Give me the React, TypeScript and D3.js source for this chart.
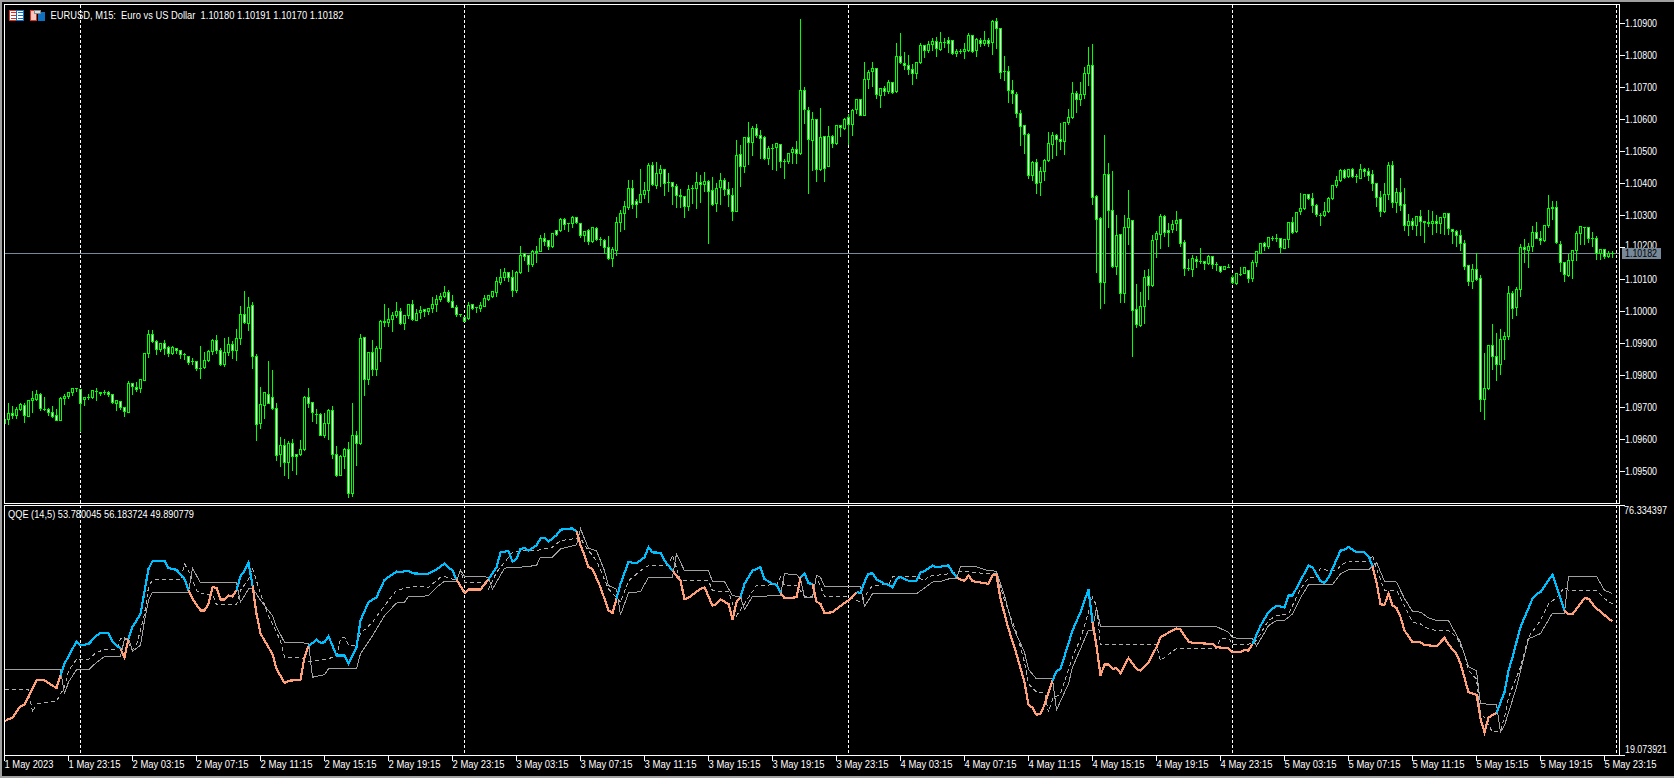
import * as d3 from "d3";

// EURUSD M15 bars as [open, high, low, close], in points above 1.09000
type Bar = [number, number, number, number];

const may1Bars: Bar[] = [
  [662,664,648,650],[662,717,646,681],[681,706,665,674],[675,702,665,694],[694,717,692,709],[706,717,652,675],[673,722,671,722],[722,754,685,728],
  [725,757,723,741],[741,748,690,696],[695,735,690,694],[694,701,675,683],[684,707,669,673],[675,698,658,659],[659,735,659,728],[727,744,710,735],
  [733,751,727,748],[746,759,736,759],[759,764,751,760],
];

const may2Bars: Bar[] = [
  [756,759,624,711],[725,732,705,732],[731,744,726,732],[730,756,728,753],[750,762,723,750],[747,751,736,743],[747,756,742,747],[747,753,733,741],
  [741,741,713,715],[711,722,690,722],[719,723,694,699],[700,700,671,686],[685,784,683,775],[775,778,740,766],[762,781,751,756],[758,790,746,787],
  [785,872,783,869],[869,944,855,928],[928,944,904,905],[906,913,865,881],[881,904,874,900],[900,913,865,884],[888,894,858,869],[868,894,865,888],
  [883,885,869,878],[878,881,852,865],[865,873,850,865],[859,863,833,840],[843,856,835,843],[844,848,817,821],[823,894,790,823],[824,875,821,847],
  [847,881,844,875],[876,916,865,909],[909,928,868,877],[878,887,832,834],[834,918,829,872],[871,923,863,897],[897,910,854,877],[877,947,848,915],
  [915,1020,898,990],[990,1066,964,965],[964,1048,941,1014],[1018,1030,823,859],[859,868,598,646],[649,766,635,709],[705,746,666,746],[742,847,713,714],
  [731,818,693,696],[697,715,535,549],[552,610,516,581],[581,603,488,527],[527,596,479,587],[587,603,502,546],[554,556,491,546],[552,600,549,568],
  [568,737,566,731],[731,762,699,714],[715,715,656,684],[679,698,651,679],[678,684,612,614],[614,684,606,650],[650,696,600,690],[690,707,541,553],
  [552,581,485,488],[489,552,488,546],[546,575,510,568],[568,593,419,430],[431,715,422,612],[612,628,519,586],[586,931,585,915],[918,922,738,789],
  [789,875,773,872],[872,913,800,820],[820,893,800,884],[883,975,844,968],[968,1025,954,965],[967,1012,954,975],[975,1000,938,987],[987,1031,981,1000],
  [1000,1012,960,963],[962,987,945,987],[987,1025,978,1022],[1022,1037,973,975],[972,1009,971,994],[996,1019,979,1003],[1005,1009,983,1000],[999,1012,991,1009],
  [1009,1047,997,1022],[1023,1053,1001,1037],[1036,1059,1031,1047],[1047,1081,1044,1059],[1059,1069,1027,1030],[1030,1053,1012,1014],[1014,1021,983,990],[992,993,985,991],
];

const may3Bars: Bar[] = [
  [981,983,968,970],[978,1031,976,1018],[1021,1025,1006,1010],[1012,1016,998,1012],[1010,1031,1001,1018],[1017,1054,1016,1040],[1038,1054,1035,1050],[1048,1062,1045,1062],
  [1059,1110,1048,1093],[1091,1135,1085,1106],[1107,1138,1098,1122],[1122,1123,1094,1105],[1106,1131,1048,1067],[1067,1127,1060,1122],[1123,1207,1120,1175],[1181,1185,1160,1173],
  [1175,1175,1126,1147],[1146,1193,1141,1187],[1185,1207,1154,1189],[1189,1240,1187,1228],[1228,1248,1206,1218],[1222,1226,1195,1202],[1202,1243,1201,1243],[1253,1256,1237,1242],
  [1252,1293,1250,1287],[1287,1293,1256,1271],[1275,1278,1251,1274],[1275,1300,1262,1293],[1293,1297,1275,1278],[1275,1275,1231,1236],[1236,1250,1218,1250],[1253,1259,1210,1218],
  [1218,1262,1216,1262],[1259,1265,1221,1225],[1225,1234,1206,1225],[1222,1228,1181,1200],[1200,1237,1163,1167],[1167,1203,1141,1193],[1190,1297,1176,1278],[1278,1318,1251,1306],
  [1306,1347,1257,1328],[1325,1412,1318,1384],[1384,1412,1323,1333],[1344,1353,1294,1333],[1342,1448,1341,1365],[1367,1406,1353,1378],[1378,1465,1341,1456],[1456,1469,1395,1397],
  [1394,1469,1385,1431],[1432,1459,1391,1444],[1444,1444,1363,1399],[1402,1435,1376,1402],[1403,1406,1335,1390],[1390,1400,1326,1361],[1362,1384,1325,1358],[1359,1360,1294,1327],
  [1327,1397,1316,1381],[1383,1397,1338,1383],[1383,1437,1323,1403],[1403,1428,1341,1397],[1397,1437,1376,1405],[1405,1412,1214,1374],[1378,1422,1331,1333],[1337,1404,1314,1383],
  [1386,1434,1335,1409],[1409,1418,1362,1381],[1380,1406,1327,1365],[1364,1387,1285,1314],[1314,1537,1314,1487],[1490,1523,1391,1452],[1452,1543,1435,1543],[1543,1594,1460,1527],
  [1527,1582,1488,1572],[1572,1588,1543,1549],[1550,1568,1479,1540],[1543,1550,1476,1478],[1478,1518,1460,1509],[1510,1525,1444,1510],[1512,1529,1441,1525],[1522,1525,1451,1468],
  [1468,1478,1417,1468],[1468,1494,1462,1493],[1497,1516,1462,1506],[1506,1535,1462,1493],[1493,1916,1491,1690],[1690,1703,1587,1631],[1628,1640,1370,1537],[1534,1625,1441,1600],
  [1600,1603,1405,1443],[1443,1637,1441,1543],[1547,1547,1405,1447],[1453,1581,1452,1547],[1547,1553,1514,1525],[1525,1584,1522,1581],[1581,1581,1548,1576],[1572,1606,1568,1600],
];

const may4Bars: Bar[] = [
  [1606,1618,1523,1584],[1584,1634,1551,1628],[1631,1664,1618,1662],[1662,1662,1612,1614],[1612,1781,1611,1725],[1725,1756,1698,1747],[1750,1781,1704,1758],[1759,1759,1666,1678],
  [1674,1697,1639,1697],[1697,1706,1675,1687],[1686,1725,1680,1715],[1715,1716,1681,1683],[1686,1840,1683,1797],[1797,1872,1775,1777],[1775,1812,1757,1769],[1769,1803,1741,1756],
  [1756,1775,1710,1743],[1743,1781,1729,1778],[1778,1840,1775,1831],[1830,1834,1795,1815],[1815,1847,1809,1834],[1834,1856,1816,1843],[1843,1859,1798,1821],[1818,1875,1815,1840],
  [1841,1856,1825,1841],[1847,1859,1809,1838],[1848,1850,1804,1806],[1805,1823,1798,1812],[1812,1822,1806,1812],[1811,1840,1791,1818],[1816,1873,1814,1862],[1862,1863,1810,1814],
  [1815,1856,1798,1850],[1847,1856,1829,1836],[1837,1878,1832,1847],[1847,1856,1829,1837],[1840,1913,1804,1906],[1906,1919,1823,1884],[1884,1884,1729,1747],[1749,1800,1723,1749],
  [1750,1769,1654,1690],[1690,1725,1650,1681],[1678,1687,1606,1618],[1618,1631,1518,1577],[1581,1581,1493,1553],[1553,1559,1416,1425],[1425,1473,1408,1465],[1465,1478,1368,1400],
  [1402,1453,1363,1437],[1437,1478,1410,1472],[1472,1562,1468,1525],[1522,1562,1479,1550],[1551,1556,1488,1539],[1537,1591,1506,1530],[1530,1590,1492,1590],[1590,1635,1584,1606],
  [1606,1720,1603,1681],[1681,1690,1623,1664],[1664,1718,1643,1678],[1679,1766,1667,1743],[1743,1829,1706,1768],[1768,1837,1335,1356],[1359,1365,1123,1286],[1290,1297,1010,1092],
  [1092,1554,1026,1428],[1428,1465,1263,1315],[1315,1440,1139,1142],[1142,1303,1116,1237],[1240,1240,1029,1056],[1056,1303,1029,1262],[1262,1381,1210,1290],[1284,1287,860,1003],
  [1006,1087,951,959],[957,1062,954,1015],[1017,1132,962,1106],[1109,1134,1038,1080],[1080,1240,1079,1222],[1224,1253,1169,1243],[1242,1306,1198,1297],[1297,1303,1235,1246],
  [1253,1278,1204,1246],[1255,1287,1248,1272],[1274,1315,1253,1284],[1287,1290,1204,1214],[1215,1225,1112,1134],[1133,1165,1129,1133],[1130,1179,1110,1165],[1162,1175,1137,1155],
  [1156,1200,1151,1156],[1156,1159,1132,1150],[1150,1178,1148,1172],[1172,1175,1135,1147],[1146,1156,1127,1146],[1142,1143,1123,1125],[1131,1140,1130,1140],[1139,1150,1136,1139],
];

const may5Bars: Bar[] = [
  [1106,1116,1087,1092],[1089,1119,1085,1118],[1117,1140,1113,1117],[1118,1137,1118,1137],[1128,1131,1091,1103],[1102,1162,1094,1153],[1153,1187,1141,1187],[1182,1212,1181,1212],
  [1212,1218,1191,1203],[1202,1231,1198,1231],[1229,1237,1223,1229],[1228,1243,1220,1228],[1228,1232,1185,1200],[1198,1225,1196,1225],[1225,1278,1201,1278],[1278,1297,1245,1248],
  [1249,1309,1248,1309],[1312,1372,1303,1322],[1322,1368,1318,1365],[1365,1368,1350,1353],[1353,1372,1310,1330],[1331,1337,1298,1302],[1301,1309,1270,1301],[1299,1343,1298,1312],
  [1312,1359,1308,1353],[1353,1393,1350,1393],[1393,1425,1386,1409],[1409,1447,1407,1440],[1440,1447,1416,1420],[1421,1444,1419,1444],[1444,1450,1419,1422],[1421,1431,1404,1421],
  [1416,1462,1415,1444],[1444,1450,1423,1437],[1437,1450,1410,1425],[1428,1444,1379,1400],[1400,1400,1329,1356],[1356,1379,1298,1314],[1311,1403,1310,1365],[1365,1469,1350,1456],
  [1457,1473,1324,1340],[1340,1387,1310,1372],[1372,1420,1316,1330],[1334,1387,1254,1269],[1269,1306,1237,1281],[1281,1294,1256,1269],[1269,1300,1237,1297],[1297,1319,1237,1280],
  [1281,1281,1216,1277],[1278,1319,1266,1274],[1274,1315,1241,1281],[1281,1303,1248,1275],[1275,1297,1244,1294],[1294,1310,1241,1306],[1306,1308,1241,1258],[1256,1259,1212,1249],
  [1250,1256,1204,1237],[1237,1256,1191,1212],[1212,1225,1131,1142],[1143,1147,1081,1093],[1093,1150,1073,1131],[1131,1184,1098,1100],[1103,1115,687,725],[725,873,664,759],
  [759,898,757,893],[893,962,818,859],[859,934,785,834],[833,947,804,912],[912,937,850,921],[921,1081,912,1056],[1056,1065,979,1009],[1012,1078,987,1068],
  [1068,1212,1048,1200],[1200,1228,1154,1194],[1190,1215,1138,1203],[1203,1269,1187,1247],[1247,1281,1227,1228],[1228,1254,1210,1222],[1222,1272,1219,1269],[1269,1366,1264,1322],
  [1322,1347,1287,1325],[1325,1348,1212,1215],[1209,1222,1126,1153],[1153,1153,1095,1115],[1114,1181,1110,1159],[1159,1194,1104,1190],[1190,1253,1160,1243],[1243,1268,1210,1265],
  [1264,1265,1210,1264],[1262,1262,1216,1228],[1228,1251,1204,1228],[1228,1237,1162,1181],[1181,1194,1162,1194],[1194,1197,1166,1171],[1173,1191,1168,1181],[1180,1191,1170,1182],
];

// QQE lines, [bar index, value]
type Pt = [number, number];

const rsiLine: Pt[] = [
  [0,26.9],[1,27.4],[2,27.7],[4,30.4],[5,30.7],[8,36.3],[10,36.3],[13,34.5],[14,37.4],[15,40.1],[18,45.2],[19,44.3],[21,44.6],[23,46.5],[24,47.1],[26,47.1],[27,45.2],[29,43.5],[30,41.6],[31,45.8],
  [32,48.5],[34,51.5],[36,61.8],[37,63.6],[40,63.7],[41,62],[43,61.6],[45,59.5],[46,56.9],[47,55],[49,52.3],[50,52.3],[51,53.8],[52,57.6],[53,57.5],[54,54.8],[55,54.8],[56,55.7],[57,55.5],[58,56.9],
  [59,60.1],[60,61.4],[61,63.3],[62,58],[63,51.5],[64,47],[67,42.3],[68,38.9],[70,35.7],[71,36.2],[74,36.4],[75,41.6],[76,44.1],[78,45.6],[79,44.9],[80,45],[81,46.4],[83,42],[85,42],[86,40.2],
  [88,43.9],[89,50],[91,54.2],[93,55.3],[95,59.3],[98,61.2],[99,61.1],[101,61.4],[102,60.8],[104,60.7],[106,60.7],[108,61.7],[110,63],[112,61.4],[113,59.4],[115,56.3],[116,57.1],[119,57.1],[121,59.4],[123,62.2],
  [124,65.6],[126,65.9],[127,63.5],[128,64.1],[129,66.4],[130,66.6],[131,66],[133,67.2],[134,68.8],[135,68.9],[136,68.1],[138,69.5],[139,70.8],[142,71.1],[143,70.4],[144,67.2],[145,64.9],[146,62.2],[147,61.8],[149,57.6],
  [151,52.3],[152,51.7],[153,55],[154,58.4],[156,63.4],[158,63.1],[160,64.5],[161,66.8],[162,65.6],[164,65.5],[165,63.7],[167,61.4],[169,59.1],[170,54.9],[171,55.2],[173,56.6],[174,57.2],[175,57.6],[177,53.4],[178,53.8],
  [179,54.8],[181,53.8],[182,50.2],[183,54.2],[184,55.3],[185,58.4],[187,61.4],[189,62.2],[190,59.5],[192,58.4],[193,58.2],[194,56.3],[195,55.1],[198,55.3],[199,59.9],[200,60.8],[201,58.5],[202,58.4],[203,54.3],[204,53.8],
  [205,51.7],[207,51.9],[210,54],[211,54.6],[213,56.5],[214,56.3],[215,58.8],[216,60.7],[217,60.8],[218,59.4],[220,58.4],[221,58.2],[222,57.6],[223,59.5],[224,60],[226,59.1],[228,59.1],[229,61],[230,61.3],[232,62.6],
  [233,62.2],[236,62.6],[237,61.1],[238,59.9],[239,59.4],[240,59.1],[241,60.3],[242,59],[246,58.4],[247,60.3],[248,60.4],[249,55],[251,48.1],[253,42.3],[255,35.8],[256,30.7],[257,30],[258,28.4],[259,28.6],[260,30.7],
  [262,36.2],[263,38.4],[264,38.9],[267,47.7],[269,51.9],[271,57.1],[272,49.6],[273,44.2],[274,37.4],[275,39.9],[276,39.9],[277,38.9],[278,39.1],[279,37.9],[281,41.4],[283,38.9],[284,38.5],[286,40.4],[288,43.9],[289,46.2],
  [293,48.2],[294,47.9],[296,45.2],[297,44.9],[302,44.6],[303,43.9],[306,43.6],[307,42.7],[309,42.7],[310,43.3],[311,43.1],[312,44.6],[314,48.8],[316,51.9],[318,53.4],[320,53],[321,55.7],[322,55.7],[324,59.1],[326,62.6],
  [327,62.2],[329,59],[330,58.6],[331,59.8],[334,66],[335,66.2],[336,66.8],[338,65.6],[340,65.6],[341,64.7],[342,62.4],[343,58.8],[344,53.7],[345,53.6],[346,56.1],[347,53.4],[348,52.9],[349,50.8],[350,47.7],[352,45],
  [354,45],[355,44.4],[358,44.1],[360,46],[361,44.5],[363,42.3],[364,40.1],[366,33.6],[368,33],[369,27.5],[370,24.4],[371,27.8],[373,28.8],[375,33.6],[376,38.5],[377,41.6],[379,48.5],[382,55],[383,56],[384,56.5],
  [387,60.5],[390,52.3],[391,51.4],[392,51.4],[395,55.1],[396,55],[397,53.8],[398,52.7],[399,52.1],[401,50.4],[402,49.89],
];

// bars where the RSI line changes colour, it starts orange
const rsiTurns = [14,29,31,46,58,62,76,113,121,143,153,167,184,194,199,202,213,238,262,272,312,342,373,390];

const slowLine: Pt[] = [
  [0,38.7],[14,38.7],[15,33.2],[16,35.9],[18,38.7],[21,38.7],[23,40.4],[25,41.7],[29,41.7],[30,45.8],[31,46],[32,43],[34,44.3],[35,50],[36,54.6],[37,56.5],[46,56.5],[47,62],[49,58.6],[58,58.6],
  [59,54.2],[61,57.2],[62,57.5],[64,54.6],[67,51.1],[68,48.5],[70,45],[76,44.8],[77,37],[80,37.6],[81,38.9],[88,38.9],[89,42.4],[92,46.5],[95,51.1],[98,54],[100,54.2],[101,55.5],[104,55.5],[106,55.7],
  [108,57.6],[110,59],[113,59],[114,61.5],[115,60.1],[119,60.1],[121,59.9],[122,57.2],[125,62],[129,62.2],[133,62.6],[134,64.5],[137,64.5],[139,66.4],[143,67.3],[144,71],[146,66.5],[148,66],[150,61.4],[151,58],
  [153,57.2],[154,51.3],[156,56.3],[159,56.6],[161,59.9],[167,59.9],[168,65.3],[170,61.4],[176,61.4],[177,58.9],[180,58.9],[182,55.7],[184,55.4],[185,52.5],[187,55.5],[194,55.7],[195,60.7],[198,60.5],[199,59.5],[200,55.3],
  [202,55.3],[203,60.3],[204,59.9],[205,57.8],[214,57.8],[215,53.2],[217,56.1],[228,56.1],[232,58.8],[234,58.9],[236,59.5],[238,59.5],[239,62.4],[243,62.3],[246,61.4],[248,61.3],[250,55.7],[252,48.8],[255,42.7],[256,38.8],
  [258,36.6],[262,36.6],[263,29.5],[266,35.5],[267,39.3],[269,43.5],[271,47.8],[272,47.8],[273,53],[274,48.6],[303,48.6],[306,47.3],[307,46.1],[309,45.8],[312,45.8],[313,44.1],[316,48.8],[318,50],[320,50],[322,51.5],
  [324,55.2],[326,58.2],[332,58.2],[334,60.7],[336,61.6],[341,61.6],[342,62.4],[343,63.3],[345,59],[348,58.8],[350,55],[352,52.1],[354,51.9],[356,50.6],[358,50],[361,50],[364,45],[366,39.4],[368,38.5],[369,30.9],
  [373,30.8],[374,24.4],[375,26],[378,34.7],[381,45.8],[384,47],[387,51.7],[390,51.7],[391,60.1],[398,60.1],[400,56.9],[402,56.18],
];

const dashedLine: Pt[] = [
  [0,34.1],[6,34.1],[7,29],[8,30.9],[13,31.5],[15,34.7],[16,38.5],[18,41.1],[21,41.1],[23,42.7],[25,43.3],[28,43.3],[29,45.8],[30,46.2],[32,43.3],[33,44.3],[35,51.5],[36,57.6],[37,59.3],[44,59.3],
  [45,63],[46,61.4],[48,56.9],[49,56.1],[52,56],[53,53.6],[58,53.6],[59,56.9],[61,59.5],[62,62],[64,56.1],[66,51.1],[69,45.4],[70,41.6],[74,41.4],[76,40.6],[80,41],[83,41.8],[84,45.8],[85,46.2],
  [86,44.3],[88,44.3],[89,47],[92,49.6],[95,53.4],[98,56.9],[101,57.6],[104,57.8],[106,57.6],[109,59.9],[110,60.1],[113,59.1],[114,61.4],[115,58.6],[120,58.6],[121,57.2],[123,61],[125,63.3],[127,65.6],[129,66],
  [133,66],[135,66.4],[137,66.8],[139,68.3],[143,68.8],[144,69],[145,67.2],[148,63.7],[151,57.2],[153,55.3],[154,54.2],[156,59.1],[159,61.4],[161,62.6],[166,62.6],[167,64.9],[169,59.1],[176,59.1],[177,56.8],[181,56.6],
  [183,51.1],[188,58],[193,58.2],[194,59.9],[195,58],[198,58],[200,55.6],[202,55.6],[203,60.1],[204,57.6],[205,55.6],[211,55.6],[212,55],[214,54.2],[217,58],[221,58.2],[222,60],[228,60.1],[230,59.1],[231,60.1],
  [236,60.7],[238,61.2],[239,61.3],[246,60.7],[248,60.7],[250,54.6],[253,47.3],[255,40.4],[256,35.5],[258,33.6],[260,33.4],[261,29],[262,32],[264,33.2],[267,41.6],[269,45.8],[271,51.9],[272,55.3],[273,53.4],[274,44.4],
  [288,44.4],[289,40.8],[293,43.6],[303,43.6],[304,45.8],[306,46],[307,44.6],[311,44.6],[313,45.4],[316,50],[318,51.1],[321,51.5],[322,53.4],[324,57.2],[326,59.8],[328,59.8],[329,62],[331,61.4],[333,61.4],[334,62.6],
  [336,63.6],[341,63.6],[342,64.9],[343,61.8],[345,56.9],[348,56.9],[350,53.4],[352,49.6],[354,49.2],[356,48.1],[358,47.7],[361,47.7],[363,46.2],[365,42.3],[366,38.5],[368,36.6],[369,28.6],[370,27.8],[372,24.4],[374,24.8],
  [375,27.8],[376,32.4],[379,39.3],[381,46.2],[384,50],[386,53.8],[388,55.2],[390,57.6],[391,56.9],[398,56.9],[400,55],[402,53.78],
];

const priceTicks = [1.095,1.096,1.097,1.098,1.099,1.1,1.101,1.102,1.103,1.104,1.105,1.106,1.107,1.108,1.109];
const timeLabels = [
  "1 May 2023","1 May 23:15","2 May 03:15","2 May 07:15","2 May 11:15","2 May 15:15","2 May 19:15","2 May 23:15",
  "3 May 03:15","3 May 07:15","3 May 11:15","3 May 15:15","3 May 19:15","3 May 23:15","4 May 03:15","4 May 07:15",
  "4 May 11:15","4 May 15:15","4 May 19:15","4 May 23:15","5 May 03:15","5 May 07:15","5 May 11:15","5 May 15:15",
  "5 May 19:15","5 May 23:15",
];
const separatorBars = [19, 115, 211, 307, 403];
const bidPrice = 1.10182;
const qqeMin = 19.073921;
const qqeMax = 76.334397;

const bars = [...may1Bars, ...may2Bars, ...may3Bars, ...may4Bars, ...may5Bars];

const width = 1674;
const height = 778;
const left = 4.5;
const right = 1619.5;
const mainTop = 4.5;
const mainBottom = 503.5;
const subTop = 505.5;
const subBottom = 755.5;

const lime = "#00ff00";
const axisGray = "#778899";

const x = d3.scaleLinear().domain([0, 403]).range([4.5, 1616.5]);
const y = d3.scaleLinear().domain([1.109, 1.095]).range([23.5, 471.5]);
const yq = d3.scaleLinear().domain([qqeMin, qqeMax]).range([subBottom, subTop]);
const price = (p: number) => 1.09 + p / 100000;
const snap = (v: number) => Math.round(v - 0.5) + 0.5;

const qqePath = d3
  .line<Pt>()
  .x((d) => x(d[0]))
  .y((d) => yq(d[1]));

// cut the RSI line at the colour changes
const rsiSegments = [0, ...rsiTurns].map((start, k) => {
  const end = k < rsiTurns.length ? rsiTurns[k] : 402;
  return {
    color: k % 2 === 0 ? "#ffa07a" : "#00bfff",
    d: qqePath(rsiLine.filter((p) => p[0] >= start && p[0] <= end)) || "",
  };
});

// the terminal font is narrower than anything installed, so squeeze to its width
function Label(props: { x: number; y: number; w: number; fill?: string; children: string }) {
  return (
    <text
      x={props.x}
      y={props.y}
      dy="0.36em"
      fill={props.fill || "#fff"}
      textLength={props.w}
      lengthAdjust="spacingAndGlyphs"
      xmlSpace="preserve"
    >
      {props.children}
    </text>
  );
}

function Icons() {
  return (
    <g shapeRendering="crispEdges">
      <rect x={9.5} y={10.5} width={14} height={10} fill="#fff" stroke="#e03020" />
      <rect x={16.5} y={10.5} width={7} height={10} fill="#fff" stroke="#1070c0" />
      {[12.5, 15.5, 18.5].map((v) => (
        <g key={v}>
          <line x1={11} x2={16} y1={v} y2={v} stroke="#e03020" />
          <line x1={18} x2={23} y1={v} y2={v} stroke="#1070c0" />
        </g>
      ))}
      <rect x={30.5} y={10.5} width={6} height={10} fill="#f8c8c0" stroke="#e03020" />
      <rect x={38.5} y={12.5} width={6} height={8} fill="#1070c0" stroke="#1070c0" />
      <rect x={34.5} y={10.5} width={6} height={3} fill="#ddd" stroke="#888" />
    </g>
  );
}

export default function App() {
  return (
    <svg
      width={width}
      height={height}
      viewBox={`0 0 ${width} ${height}`}
      style={{ position: "absolute", left: 0, top: 0, display: "block", background: "#000" }}
      fontFamily='"Liberation Sans", sans-serif'
      fontSize={10.5}
    >
      <defs>
        <clipPath id="mainClip">
          <rect x={left} y={mainTop} width={right - left} height={mainBottom - mainTop} />
        </clipPath>
        <clipPath id="subClip">
          <rect x={left} y={subTop} width={right - left} height={subBottom - subTop} />
        </clipPath>
      </defs>

      {/* window edge */}
      <rect x={0} y={0} width={width} height={2} fill="#a0a0a0" />
      <rect x={0} y={0} width={2} height={height} fill="#a0a0a0" />
      <rect x={0} y={height - 2} width={width} height={2} fill="#a0a0a0" />

      <rect x={left} y={mainTop} width={right - left} height={mainBottom - mainTop} fill="#000" />
      <rect x={left} y={subTop} width={right - left} height={subBottom - subTop} fill="#000" />

      {/* day separators */}
      <g stroke="#fff" strokeDasharray="3,2" shapeRendering="crispEdges">
        {separatorBars.map((b) => (
          <line key={b} x1={x(b)} x2={x(b)} y1={mainTop} y2={subBottom} />
        ))}
      </g>

      {/* bid line */}
      <line x1={left} x2={right} y1={snap(y(bidPrice))} y2={snap(y(bidPrice))} stroke={axisGray} shapeRendering="crispEdges" />

      {/* candles */}
      <g clipPath="url(#mainClip)" shapeRendering="crispEdges">
        {bars.map(([o, h, l, c], i) => {
          const cx = x(i);
          const top = snap(y(price(Math.max(o, c))));
          const bottom = snap(y(price(Math.min(o, c))));
          return (
            <g key={i}>
              <line x1={cx} x2={cx} y1={snap(y(price(h)))} y2={snap(y(price(l))) + 0.5} stroke={lime} />
              {bottom - top < 1 ? (
                <line x1={cx - 1.5} x2={cx + 1.5} y1={top} y2={top} stroke={lime} />
              ) : (
                <rect x={cx - 1} y={top} width={2} height={bottom - top} fill={c < o ? "#fff" : "#000"} stroke={lime} />
              )}
            </g>
          );
        })}
      </g>

      {/* QQE */}
      <g clipPath="url(#subClip)" fill="none" shapeRendering="crispEdges">
        <path d={qqePath(slowLine) || ""} stroke="#a0a0a0" />
        <path d={qqePath(dashedLine) || ""} stroke="#b0b0b0" strokeDasharray="4,3" />
        {rsiSegments.map((s, i) => (
          <path key={i} d={s.d} stroke={s.color} strokeWidth={2.2} />
        ))}
      </g>

      {/* panel frames */}
      <g fill="none" stroke="#fff" shapeRendering="crispEdges">
        <rect x={left} y={mainTop} width={right - left} height={mainBottom - mainTop} />
        <rect x={left} y={subTop} width={right - left} height={subBottom - subTop} />
      </g>

      {/* price axis */}
      {priceTicks.map((t) => (
        <g key={t}>
          <line x1={right} x2={right + 5} y1={y(t)} y2={y(t)} stroke="#fff" shapeRendering="crispEdges" />
          {t !== 1.102 && <Label x={1625} y={y(t)} w={32}>{t.toFixed(5)}</Label>}
        </g>
      ))}
      {/* 1.10200 sits just above the bid tag and is half covered by it */}
      <Label x={1625} y={y(1.102) - 2} w={32}>{(1.102).toFixed(5)}</Label>
      <rect x={1622} y={248} width={39} height={11} fill={axisGray} />
      <Label x={1625} y={snap(y(bidPrice))} w={32} fill="#000">{bidPrice.toFixed(5)}</Label>

      {/* QQE axis */}
      <g>
        <line x1={right} x2={right + 5} y1={subTop} y2={subTop} stroke="#fff" shapeRendering="crispEdges" />
        <line x1={right} x2={right + 5} y1={subBottom} y2={subBottom} stroke="#fff" shapeRendering="crispEdges" />
        <Label x={1624} y={subTop + 4.5} w={43}>{qqeMax.toFixed(6)}</Label>
        <Label x={1625} y={subBottom - 6} w={42}>{qqeMin.toFixed(6)}</Label>
      </g>

      {/* time axis */}
      {timeLabels.map((label, k) => (
        <g key={label}>
          <line x1={x(k * 16)} x2={x(k * 16)} y1={subBottom} y2={subBottom + 5} stroke="#fff" shapeRendering="crispEdges" />
          <Label x={x(k * 16)} y={764} w={k === 0 ? 49 : 52}>{label}</Label>
        </g>
      ))}

      {/* titles */}
      <Icons />
      <Label x={50.5} y={15.5} w={293}>EURUSD, M15:  Euro vs US Dollar  1.10180 1.10191 1.10170 1.10182</Label>
      <Label x={8} y={514.5} w={186}>QQE (14,5) 53.780045 56.183724 49.890779</Label>
    </svg>
  );
}
